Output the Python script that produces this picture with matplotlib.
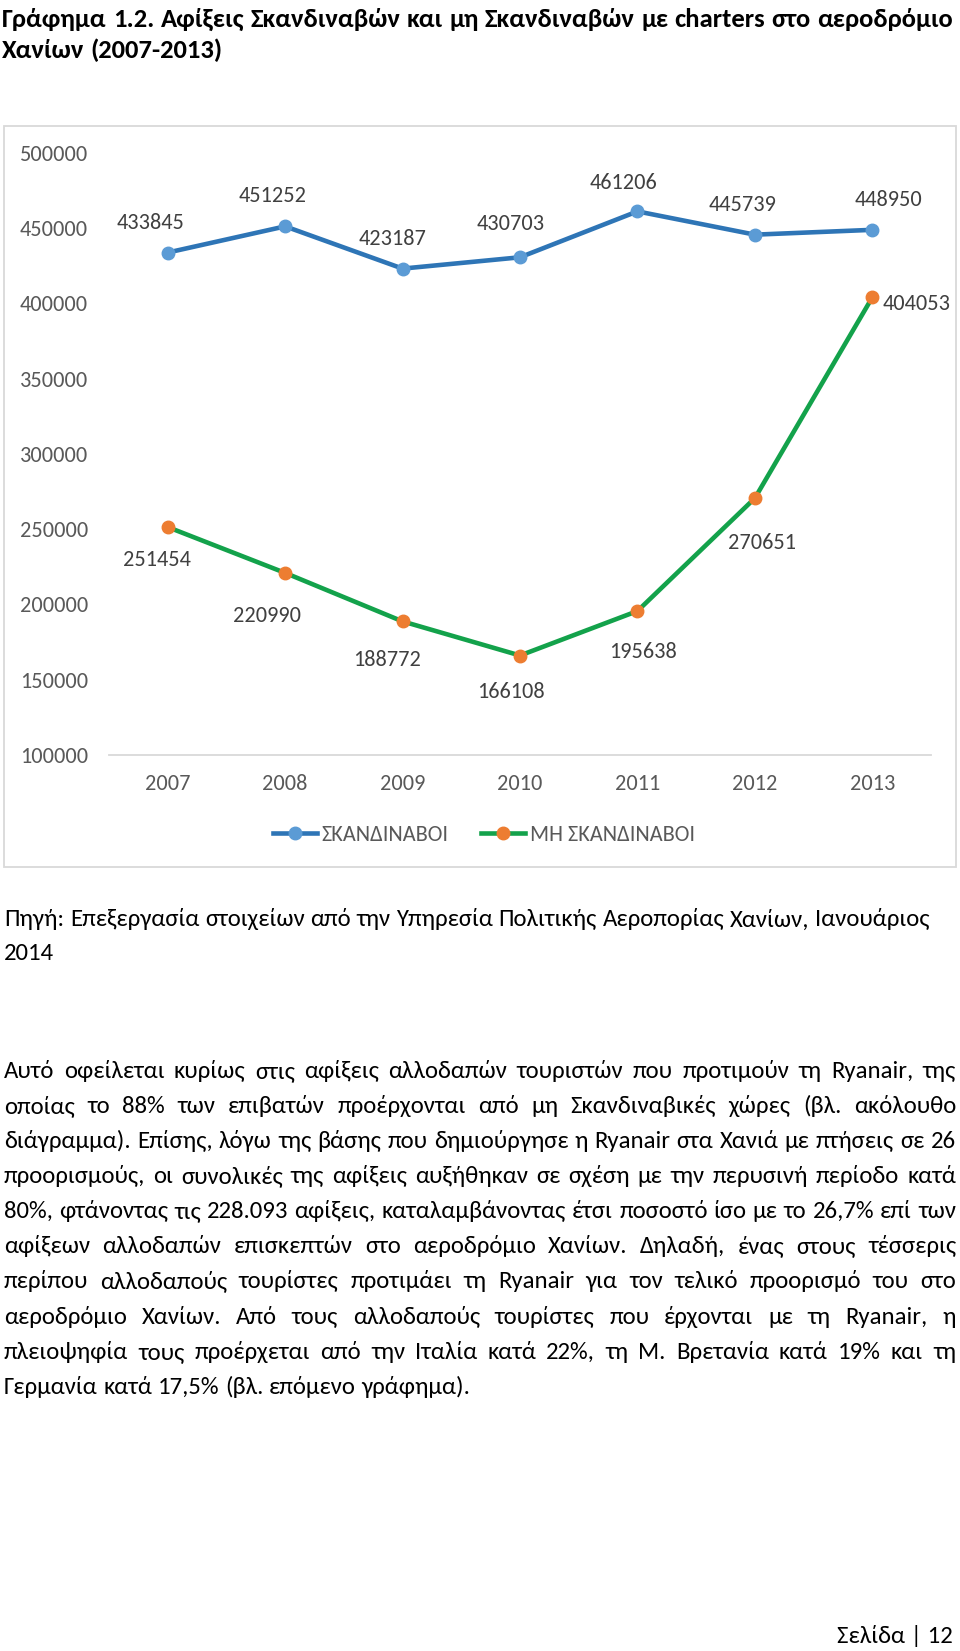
import matplotlib
matplotlib.use('Agg')
import matplotlib.pyplot as plt
from matplotlib import font_manager as fm
from matplotlib.ft2font import FT2Font
from matplotlib.patches import Rectangle
from matplotlib.lines import Line2D

# ---------------- data ----------------
years = ['2007', '2008', '2009', '2010', '2011', '2012', '2013']
scandinavians = [433845, 451252, 423187, 430703, 461206, 445739, 448950]
non_scandinavians = [251454, 220990, 188772, 166108, 195638, 270651, 404053]
series_names = ['ΣΚΑΝΔΙΝΑΒΟΙ', 'ΜΗ ΣΚΑΝΔΙΝΑΒΟΙ']
y_ticks = [100000, 150000, 200000, 250000, 300000, 350000, 400000, 450000, 500000]

title_lines = [
    'Γράφημα 1.2. Αφίξεις Σκανδιναβών και μη Σκανδιναβών με charters στο αεροδρόμιο',
    'Χανίων (2007-2013)',
]
source_lines = [
    'Πηγή: Επεξεργασία στοιχείων από την Υπηρεσία Πολιτικής Αεροπορίας Χανίων, Ιανουάριος',
    '2014',
]
body_lines = [
    'Αυτό οφείλεται κυρίως στις αφίξεις αλλοδαπών τουριστών που προτιμούν τη Ryanair, της',
    'οποίας το 88% των επιβατών προέρχονται από μη Σκανδιναβικές χώρες (βλ. ακόλουθο',
    'διάγραμμα). Επίσης, λόγω της βάσης που δημιούργησε η Ryanair στα Χανιά με πτήσεις σε 26',
    'προορισμούς, οι συνολικές της αφίξεις αυξήθηκαν σε σχέση με την περυσινή περίοδο κατά',
    '80%, φτάνοντας τις 228.093 αφίξεις, καταλαμβάνοντας έτσι ποσοστό ίσο με το 26,7% επί των',
    'αφίξεων αλλοδαπών επισκεπτών στο αεροδρόμιο Χανίων. Δηλαδή, ένας στους τέσσερις',
    'περίπου αλλοδαπούς τουρίστες προτιμάει τη Ryanair για τον τελικό προορισμό του στο',
    'αεροδρόμιο Χανίων. Από τους αλλοδαπούς τουρίστες που έρχονται με τη Ryanair, η',
    'πλειοψηφία τους προέρχεται από την Ιταλία κατά 22%, τη Μ. Βρετανία κατά 19% και τη',
    'Γερμανία κατά 17,5% (βλ. επόμενο γράφημα).',
]
footer_text = 'Σελίδα | 12'

# ---------------- font choice ----------------
def has_greek(name):
    try:
        path = fm.findfont(fm.FontProperties(family=name), fallback_to_default=False)
        cmap = FT2Font(path).get_charmap()
    except Exception:
        return False
    return all(ord(c) in cmap for c in 'αβγΣΔώίΠ')

FONT = 'DejaVu Sans'
for cand in ['Carlito', 'Lato', 'Open Sans', 'Noto Sans', 'Roboto', 'Liberation Sans']:
    if has_greek(cand):
        FONT = cand
        break
plt.rcParams['font.family'] = [FONT, 'DejaVu Sans']

# ---------------- figure ----------------
W, H = 960, 1651
fig = plt.figure(figsize=(W / 100, H / 100), dpi=100)
fig.patch.set_facecolor('white')

def fx(px):
    return px / W

def fy(py):
    return 1 - py / H

# chart frame
fig.patches.append(Rectangle((fx(4), fy(867)), (956 - 4) / W, (867 - 126) / H,
                             transform=fig.transFigure, fill=False,
                             edgecolor='#D9D9D9', linewidth=1.3))

ax = fig.add_axes([fx(109), fy(755), (931 - 109) / W, (755 - 153) / H])
ax.set_facecolor('none')
x = list(range(len(years)))

TICK_FS = 16
blue_line, blue_mk = '#2E75B6', '#5B9BD5'
green_line, orange_mk = '#13A24B', '#ED7D31'

ax.plot(x, scandinavians, color=blue_line, lw=3.3, marker='o', ms=9,
        mfc=blue_mk, mec=blue_mk, solid_joinstyle='round', clip_on=False, zorder=3)
ax.plot(x, non_scandinavians, color=green_line, lw=3.3, marker='o', ms=9,
        mfc=orange_mk, mec=orange_mk, solid_joinstyle='round', clip_on=False, zorder=3)

ax.set_xlim(-0.5, len(years) - 0.5)
ax.set_ylim(y_ticks[0], y_ticks[-1])
ax.set_xticks(x)
ax.set_xticklabels(years)
ax.set_yticks(y_ticks)
ax.set_yticklabels([str(v) for v in y_ticks])
ax.tick_params(axis='both', length=0, labelsize=TICK_FS, labelcolor='#595959')
ax.tick_params(axis='y', pad=15)
ax.tick_params(axis='x', pad=14)
for s in ['top', 'left', 'right']:
    ax.spines[s].set_visible(False)
ax.spines['bottom'].set_color('#D9D9D9')
ax.spines['bottom'].set_linewidth(1.3)

# data labels (offsets in pixels: right, down)
blue_off = [(-17, -30), (-13, -30), (-10, -30), (-9, -33), (-14, -28), (-12, -30), (16, -30)]
green_off = [(-11, 33), (-18, 43), (-16, 39), (-9, 36), (6, 41), (7, 45), (44, 7)]
for i, v in enumerate(scandinavians):
    dx, dy = blue_off[i]
    ax.annotate(str(v), (x[i], v), xytext=(dx * 0.72, -dy * 0.72), textcoords='offset points',
                ha='center', va='center', fontsize=TICK_FS, color='#404040')
for i, v in enumerate(non_scandinavians):
    dx, dy = green_off[i]
    ax.annotate(str(v), (x[i], v), xytext=(dx * 0.72, -dy * 0.72), textcoords='offset points',
                ha='center', va='center', fontsize=TICK_FS, color='#404040')

handles = [
    Line2D([], [], color=blue_line, lw=3.3, marker='o', ms=9, mfc=blue_mk, mec=blue_mk),
    Line2D([], [], color=green_line, lw=3.3, marker='o', ms=9, mfc=orange_mk, mec=orange_mk),
]
fig.legend(handles, series_names, loc='center', bbox_to_anchor=(fx(483.5), fy(835)),
           ncol=2, frameon=False, handlelength=2.0, handletextpad=0.2,
           columnspacing=1.45, fontsize=TICK_FS, labelcolor='#595959')

# ---------------- page text (justified, word by word) ----------------
renderer = fig.canvas.get_renderer()

def text_w(s, prop):
    w, h, d = renderer.get_text_width_height_descent(s, prop, ismath=False)
    return w

def draw_line(s, yc, x0, x1, prop, justify, color='black'):
    words = s.split(' ')
    ws = [text_w(w, prop) for w in words]
    sp = text_w('a a', prop) - text_w('aa', prop)
    if justify and len(words) > 1:
        gap = (x1 - x0 - sum(ws)) / (len(words) - 1)
    else:
        gap = sp
    em = prop.get_size_in_points() * 100 / 72
    base = yc + 0.34 * em
    xx = x0
    for wd, wdw in zip(words, ws):
        fig.text(fx(xx), fy(base), wd, fontproperties=prop, color=color,
                 ha='left', va='baseline')
        xx += wdw + gap

F0 = 16.0
p0 = fm.FontProperties(family=[FONT, 'DejaVu Sans'], size=F0)
max_nat = max(text_w(s, p0) for s in body_lines[:-1])
F_body = F0 * (952 - 4) / max_nat
body_prop = fm.FontProperties(family=[FONT, 'DejaVu Sans'], size=F_body)

pt0 = fm.FontProperties(family=[FONT, 'DejaVu Sans'], size=F0, weight='bold')
F_title = min(F0 * (953 - 2) / text_w(title_lines[0], pt0), F_body * 1.1)
title_prop = fm.FontProperties(family=[FONT, 'DejaVu Sans'], size=F_title, weight='bold')

draw_line(title_lines[0], 18, 2, 953, title_prop, True)
draw_line(title_lines[1], 48.5, 2, 953, title_prop, False)

draw_line(source_lines[0], 918, 4, 956, body_prop, False)
draw_line(source_lines[1], 951.5, 4, 956, body_prop, False)

for k, s in enumerate(body_lines):
    yc = 1069.5 + 35.09 * k
    draw_line(s, yc, 4, 956, body_prop, k < len(body_lines) - 1)

em_b = F_body * 100 / 72
fig.text(fx(953), fy(1635 + 0.34 * em_b), footer_text, fontproperties=body_prop,
         color='black', ha='right', va='baseline')

fig.savefig('out.png', dpi=100, facecolor='white')
